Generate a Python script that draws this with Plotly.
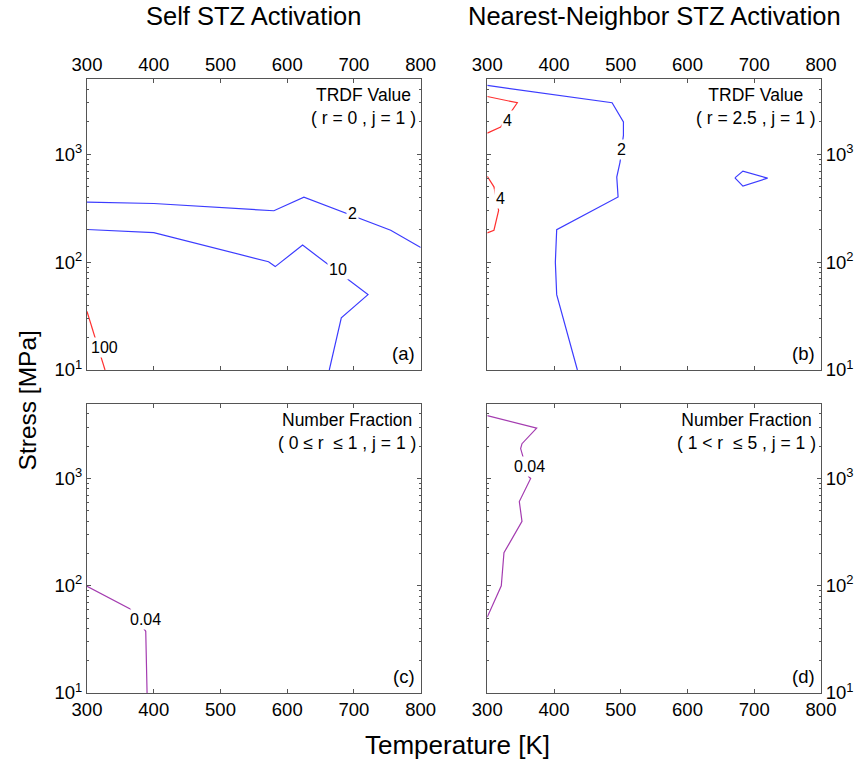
import math
import plotly.graph_objects as go

# ---------------- data ----------------
T_TICKS = [300, 400, 500, 600, 700, 800]
S_TICKS = [10, 100, 1000]
S_TICKTEXT = ["10<sup>1</sup>", "10<sup>2</sup>", "10<sup>3</sup>"]
S_MINOR = [20, 30, 40, 50, 60, 70, 80, 90,
           200, 300, 400, 500, 600, 700, 800, 900,
           2000, 3000, 4000, 5000]
S_MAX = 5000

# (a) Self STZ, TRDF value (r = 0, j = 1)
a_T_2 = [300, 400, 580, 625, 755, 800]
a_S_2 = [360, 350, 300, 400, 198, 137]
a_T_10 = [300, 400, 572, 582, 623, 721, 681, 663]
a_S_10 = [201, 188, 101, 91, 144, 50, 30.5, 10]
a_T_100 = [300, 327]
a_S_100 = [35, 10]
a_labels = ["2", "10", "100"]
a_label_T = [698, 676, 326]
a_label_S = [282, 86, 16.3]

# (b) Nearest-neighbor STZ, TRDF value (r = 2.5, j = 1)
b_T_2 = [300, 487, 504, 504, 501, 499, 494, 496, 404, 402, 404, 435]
b_S_2 = [4360, 3010, 1995, 1500, 1110, 850, 615, 403, 200, 100, 50, 10]
b_T_2loop = [671, 683, 720, 683, 671]
b_S_2loop = [605, 700, 602, 508, 605]
b_T_4a = [300, 345, 320, 300]
b_S_4a = [3440, 3010, 1790, 1575]
b_T_4b = [300, 310, 317, 310, 300]
b_S_4b = [625, 500, 302, 198, 187]
b_labels = ["2", "4", "4"]
b_label_T = [501, 331, 320]
b_label_S = [1110, 2050, 390]

# (c) Self STZ, number fraction (0 <= r <= 1, j = 1)
c_T = [300, 364, 388, 390]
c_S = [99, 61, 37.6, 10]
c_labels = ["0.04"]
c_label_T = [388]
c_label_S = [48]

# (d) Nearest-neighbor STZ, number fraction (1 < r <= 5, j = 1)
d_T = [300, 374, 352, 350, 362, 365, 348, 352, 325, 321, 300]
d_S = [3850, 2950, 2110, 1900, 1040, 1000, 610, 398, 203, 100, 51]
d_labels = ["0.04"]
d_label_T = [364]
d_label_S = [1300]

BLUE = "#3c3cff"
RED = "#ff3030"
PURPLE = "#a43cb0"
FRAME = "#555555"
FONT = "Liberation Sans, Arial, Helvetica, sans-serif"

# ---------------- figure ----------------
fig = go.Figure()

def line(T, S, color, xa, ya):
    fig.add_trace(go.Scatter(x=T, y=S, mode="lines",
                             line=dict(color=color, width=1.2),
                             xaxis=xa, yaxis=ya, showlegend=False,
                             hoverinfo="skip"))

line(a_T_2, a_S_2, BLUE, "x", "y")
line(a_T_10, a_S_10, BLUE, "x", "y")
line(a_T_100, a_S_100, RED, "x", "y")
line(b_T_2, b_S_2, BLUE, "x2", "y2")
line(b_T_2loop, b_S_2loop, BLUE, "x2", "y2")
line(b_T_4a, b_S_4a, RED, "x2", "y2")
line(b_T_4b, b_S_4b, RED, "x2", "y2")
line(c_T, c_S, PURPLE, "x3", "y3")
line(d_T, d_S, PURPLE, "x4", "y4")

W, H = 865, 763
ML, MR, MT, MB = 87, 39, 79, 70
PW, PH = W - ML - MR, H - MT - MB

def px_x(p):
    return (p - ML) / PW

def px_y(p):
    return (H - MB - p) / PH

xdom_l = [0, px_x(423)]
xdom_r = [px_x(490), 1]
ydom_t = [px_y(370), 1]
ydom_b = [0, px_y(403.5)]

def xaxis(dom, anchor, side):
    return dict(domain=dom, anchor=anchor, side=side, range=[300, 800],
                tickmode="array", tickvals=T_TICKS,
                ticks="inside", ticklen=4, tickcolor=FRAME,
                mirror="allticks", showline=True, linecolor=FRAME, linewidth=1,
                showgrid=False, zeroline=False,
                tickfont=dict(size=18.5, color="black", family=FONT))

def yaxis(dom, anchor, side):
    return dict(domain=dom, anchor=anchor, side=side, type="log",
                range=[1, math.log10(S_MAX)],
                tickmode="array", tickvals=S_TICKS, ticktext=S_TICKTEXT,
                ticks="inside", ticklen=4, tickcolor=FRAME,
                minor=dict(tickmode="array", tickvals=S_MINOR, ticks="inside",
                           ticklen=2, tickcolor=FRAME, showgrid=False),
                mirror="allticks", showline=True, linecolor=FRAME, linewidth=1,
                showgrid=False, zeroline=False,
                tickfont=dict(size=18.5, color="black", family=FONT))

fig.update_layout(
    width=W, height=H,
    margin=dict(l=ML, r=MR, t=MT, b=MB),
    paper_bgcolor="white", plot_bgcolor="white",
    font=dict(family=FONT, color="black"),
    xaxis=xaxis(xdom_l, "y", "top"),
    yaxis=yaxis(ydom_t, "x", "left"),
    xaxis2=xaxis(xdom_r, "y2", "top"),
    yaxis2=yaxis(ydom_t, "x2", "right"),
    xaxis3=xaxis(xdom_l, "y3", "bottom"),
    yaxis3=yaxis(ydom_b, "x3", "left"),
    xaxis4=xaxis(xdom_r, "y4", "bottom"),
    yaxis4=yaxis(ydom_b, "x4", "right"),
)

ann = []

# contour labels
def contour_labels(texts, Ts, Ss, xa, ya):
    for t, x, s in zip(texts, Ts, Ss):
        ann.append(dict(text=t, x=x, y=math.log10(s), xref=xa, yref=ya,
                        showarrow=False, bgcolor="white", borderpad=1,
                        font=dict(size=16, color="black")))

contour_labels(a_labels, a_label_T, a_label_S, "x", "y")
contour_labels(b_labels, b_label_T, b_label_S, "x2", "y2")
contour_labels(c_labels, c_label_T, c_label_S, "x3", "y3")
contour_labels(d_labels, d_label_T, d_label_S, "x4", "y4")

# panel texts
panel_text = {
    ("x", "y"): "TRDF Value<br>( r = 0 , j = 1 )",
    ("x2", "y2"): "TRDF Value<br>( r = 2.5 , j = 1 )",
    ("x3", "y3"): "Number Fraction<br>( 0 \u2264 r \u00a0\u2264 1 , j = 1 )",
    ("x4", "y4"): "Number Fraction<br>( 1 < r \u00a0\u2264 5 , j = 1 )",
}
for (xa, ya), t in panel_text.items():
    ann.append(dict(text=t, xref=xa + " domain", yref=ya + " domain",
                    x=1, y=1, xanchor="right", yanchor="top",
                    xshift=-3, yshift=-4, align="center", showarrow=False,
                    font=dict(size=17.5)))

letters = {("x", "y"): "(a)", ("x2", "y2"): "(b)",
           ("x3", "y3"): "(c)", ("x4", "y4"): "(d)"}
for (xa, ya), t in letters.items():
    ann.append(dict(text=t, xref=xa + " domain", yref=ya + " domain",
                    x=1, y=0, xanchor="right", yanchor="bottom",
                    xshift=-4, yshift=4, showarrow=False,
                    font=dict(size=18.5)))

# column titles
ann.append(dict(text="Self STZ Activation", xref="paper", yref="paper",
                x=(xdom_l[0] + xdom_l[1]) / 2, y=px_y(16),
                xanchor="center", yanchor="middle", showarrow=False,
                font=dict(size=25.5)))
ann.append(dict(text="Nearest-Neighbor STZ Activation", xref="paper", yref="paper",
                x=(xdom_r[0] + xdom_r[1]) / 2, y=px_y(16),
                xanchor="center", yanchor="middle", showarrow=False,
                font=dict(size=25.5)))
# axis titles
ann.append(dict(text="Stress [MPa]", xref="paper", yref="paper",
                x=px_x(27), y=px_y(400), textangle=-90,
                xanchor="center", yanchor="middle", showarrow=False,
                font=dict(size=24.5)))
ann.append(dict(text="Temperature [K]", xref="paper", yref="paper",
                x=px_x(460), y=px_y(745),
                xanchor="center", yanchor="middle", showarrow=False,
                font=dict(size=26)))

fig.update_layout(annotations=ann)
fig.write_html("out.html")
